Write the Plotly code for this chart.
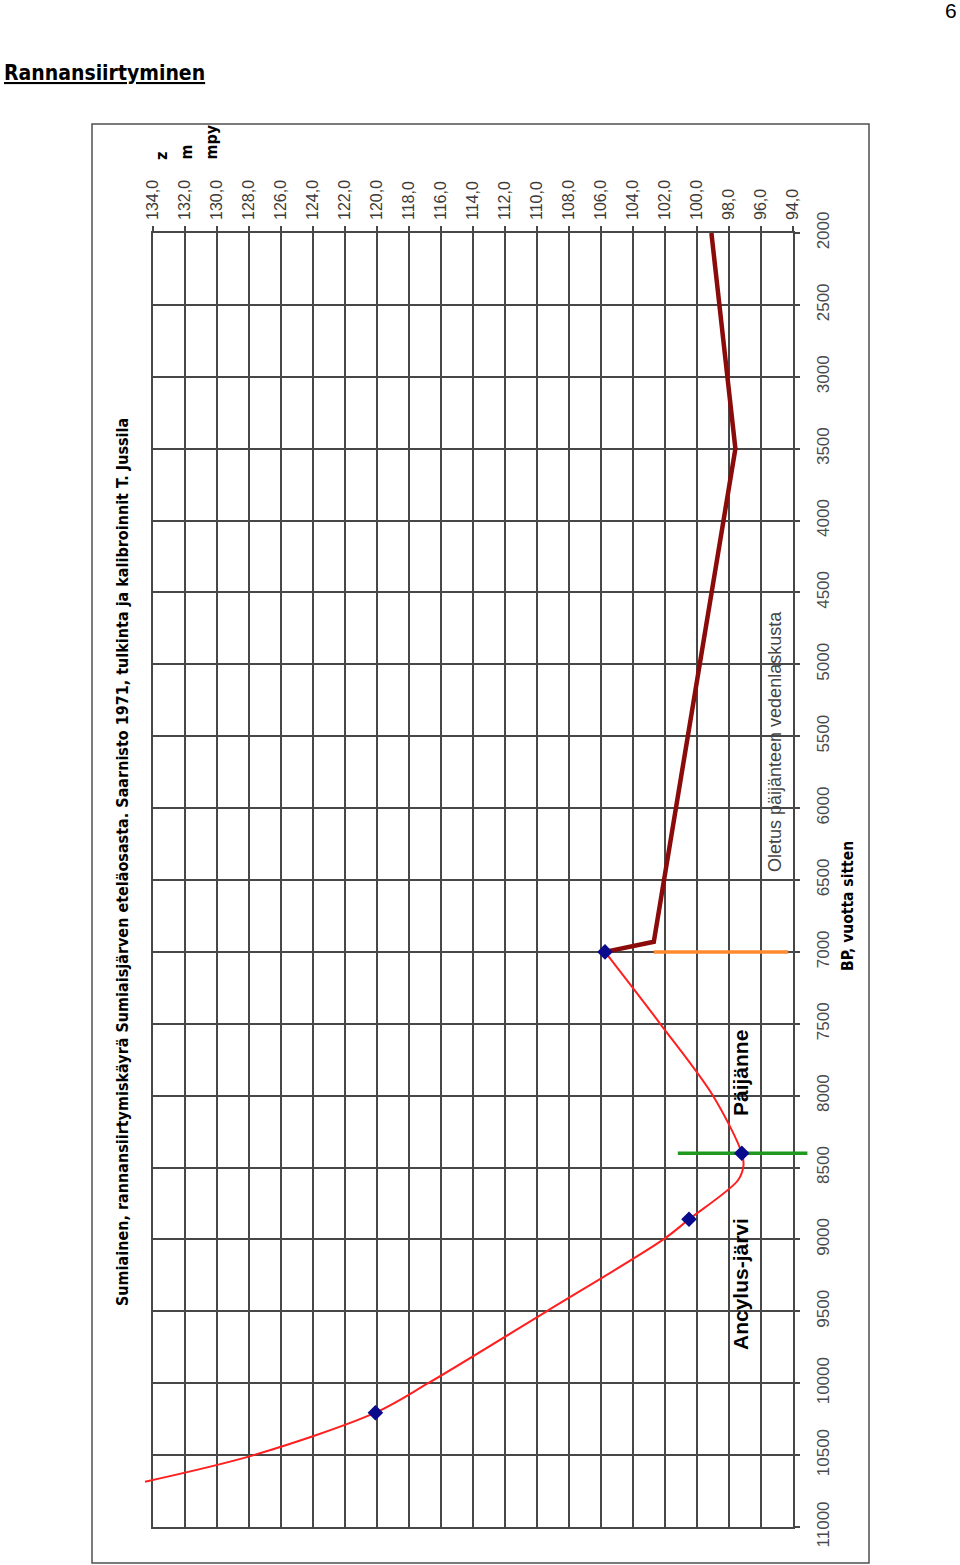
import plotly.graph_objects as go

# ---------------- data ----------------
elev_ticks = [134, 132, 130, 128, 126, 124, 122, 120, 118, 116, 114, 112, 110,
              108, 106, 104, 102, 100, 98, 96, 94]
elev_ticktext = ["134,0", "132,0", "130,0", "128,0", "126,0", "124,0", "122,0",
                 "120,0", "118,0", "116,0", "114,0", "112,0", "110,0", "108,0",
                 "106,0", "104,0", "102,0", "100,0", "98,0", "96,0", "94,0"]
year_ticks = [2000, 2500, 3000, 3500, 4000, 4500, 5000, 5500, 6000, 6500, 7000,
              7500, 8000, 8500, 9000, 9500, 10000, 10500, 11000]

# smooth red shoreline curve (elevation m, years BP)
red_elev = [134.5, 127.7, 120.1, 116.8, 109.4, 102.1, 100.5, 97.45, 97.1, 97.2, 99.0, 102.3, 105.75]
red_year = [10685, 10500, 10205, 10000, 9500, 9000, 8860, 8590, 8490, 8400, 8000, 7500, 7000]

# dark red assumed curve
dark_elev = [105.75, 102.7, 97.6, 99.1]
dark_year = [7000, 6930, 3500, 2000]

# dated points
pt_elev = [120.1, 100.5, 97.2, 105.75]
pt_year = [10205, 8860, 8400, 7000]

# orange and green horizontal markers
orange_elev = [102.7, 94.3]
orange_year = [7000, 7000]
green_elev = [101.2, 93.1]
green_year = [8400, 8400]

# ---------------- layout geometry ----------------
W, H = 960, 1565
FL, FR, FT, FB = 92, 869, 124, 1563          # frame (paper area)
GL, GR, GT, GB = 153, 793, 233, 1527         # grid area

def px(x):
    return (x - FL) / (FR - FL)

def py(y):
    return (FB - y) / (FB - FT)

dx0, dx1 = px(GL), px(GR)
dy0, dy1 = py(GB), py(GT)

e_hi, e_lo = elev_ticks[0], elev_ticks[-1]
y_lo, y_hi = year_ticks[0], year_ticks[-1]
epu = (e_hi - e_lo) / (dx1 - dx0)
ypu = (y_hi - y_lo) / (dy1 - dy0)
x2_range = [e_hi + dx0 * epu, e_lo - (1 - dx1) * epu]
y2_range = [y_hi + dy0 * ypu, y_lo - (1 - dy1) * ypu]

GRID = "#474747"
NARROW = "Liberation Sans Narrow, Arial Narrow, DejaVu Sans Condensed, sans-serif"
SANS = "Liberation Sans, Arial, sans-serif"

fig = go.Figure()

# dummy trace to keep the grid subplot
fig.add_trace(go.Scatter(x=[elev_ticks[0]], y=[year_ticks[0]], mode="markers",
                         marker=dict(opacity=0), hoverinfo="skip",
                         showlegend=False, xaxis="x", yaxis="y"))

fig.add_trace(go.Scatter(x=red_elev, y=red_year, mode="lines",
                         line=dict(color="#ff1f1f", width=2, shape="spline", smoothing=0.9),
                         showlegend=False, xaxis="x2", yaxis="y2"))
fig.add_trace(go.Scatter(x=dark_elev, y=dark_year, mode="lines",
                         line=dict(color="#8b0a0a", width=4.5),
                         showlegend=False, xaxis="x2", yaxis="y2"))
fig.add_trace(go.Scatter(x=orange_elev, y=orange_year, mode="lines",
                         line=dict(color="#ff8a2e", width=3.5),
                         showlegend=False, xaxis="x2", yaxis="y2"))
fig.add_trace(go.Scatter(x=green_elev, y=green_year, mode="lines",
                         line=dict(color="#1f9a1f", width=3.5),
                         showlegend=False, xaxis="x2", yaxis="y2"))
fig.add_trace(go.Scatter(x=pt_elev, y=pt_year, mode="markers",
                         marker=dict(symbol="diamond", size=12, color="#0a0a8c"),
                         showlegend=False, xaxis="x2", yaxis="y2"))

fig.update_layout(
    width=W, height=H,
    margin=dict(l=FL, r=W - FR, t=FT, b=H - FB, pad=0, autoexpand=False),
    paper_bgcolor="white",
    plot_bgcolor="rgba(0,0,0,0)",
    showlegend=False,
    xaxis=dict(domain=[dx0, dx1], range=[e_hi, e_lo], side="top", anchor="y",
               tickmode="array", tickvals=elev_ticks, ticktext=elev_ticktext,
               tickangle=-90, ticks="outside", ticklen=5, tickwidth=1.5,
               tickcolor=GRID, ticklabelstandoff=3, automargin=False,
               tickfont=dict(family=SANS, size=16, color="#3a3a3a"),
               showgrid=True, gridcolor=GRID, gridwidth=1.6,
               showline=True, mirror=True, linecolor=GRID, linewidth=1.6,
               zeroline=False),
    yaxis=dict(domain=[dy0, dy1], range=[y_hi, y_lo], side="right", anchor="x",
               tickmode="array", tickvals=year_ticks,
               ticktext=[str(v) for v in year_ticks],
               tickangle=-90, ticks="outside", ticklen=5, tickwidth=1.5,
               tickcolor=GRID, ticklabelstandoff=9, automargin=False,
               tickfont=dict(family=SANS, size=17, color="#4a4a4a"),
               showgrid=True, gridcolor=GRID, gridwidth=1.6,
               showline=True, mirror=True, linecolor=GRID, linewidth=1.6,
               zeroline=False),
    xaxis2=dict(domain=[0, 1], range=x2_range, anchor="y2", visible=False,
                showgrid=False, zeroline=False, automargin=False),
    yaxis2=dict(domain=[0, 1], range=y2_range, anchor="x2", visible=False,
                showgrid=False, zeroline=False, automargin=False),
)

# frame
fig.add_shape(type="rect", xref="paper", yref="paper", x0=0, x1=1, y0=0, y1=1,
              line=dict(color="#505050", width=1.5), fillcolor="rgba(0,0,0,0)")

def ann(text, x, y, size, family=SANS, bold=False, angle=-90, xanchor="center",
        yanchor="middle", color="black"):
    fig.add_annotation(text=("<b>%s</b>" % text) if bold else text,
                       xref="paper", yref="paper", x=px(x), y=py(y),
                       showarrow=False, textangle=angle, xanchor=xanchor,
                       yanchor=yanchor, font=dict(family=family, size=size, color=color))

ann("Sumiainen, rannansiirtymiskäyrä Sumiaisjärven eteläosasta. Saarnisto 1971, "
    "tulkinta ja kalibroinnit T. Jussila", 122, 862, 16, family=NARROW, bold=True)
ann("z", 162, 162, 16, family=NARROW, bold=True, yanchor="bottom")
ann("m", 186, 162, 16, family=NARROW, bold=True, yanchor="bottom")
ann("mpy", 211, 162, 16, family=NARROW, bold=True, yanchor="bottom")
ann("BP, vuotta sitten", 848, 906, 15.5, family=NARROW, bold=True)
ann("Oletus päijänteen vedenlaskusta", 775, 742, 18, color="#444444")
ann("Päijänne", 740, 1073, 21, bold=True)
ann("Ancylus-järvi", 740, 1284, 21, bold=True)
ann("6", 951, 10, 21, angle=0)
ann("<u>Rannansiirtyminen</u>", 2, 73, 21, family=NARROW, bold=True, angle=0,
    xanchor="left")

fig.write_html("out.html",
               config={"displayModeBar": False},
               post_script="document.body.style.margin='0px';document.body.style.padding='0px';")
